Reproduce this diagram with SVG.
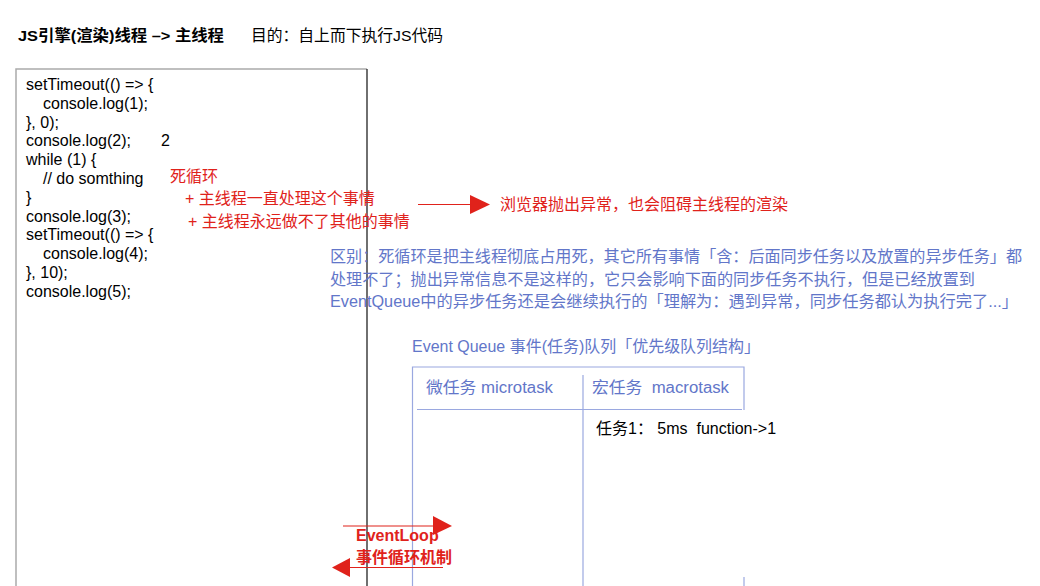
<svg xmlns="http://www.w3.org/2000/svg" width="1040" height="586" viewBox="0 0 1040 586">
<defs>
<style>
text{font-family:"Liberation Sans","Noto Sans CJK SC",sans-serif;font-size:16px;}
.title{font-size:15.5px;fill:#000;}
.b{font-weight:bold;}
.code{fill:#000;font-size:16px;}
.red{fill:#e0221b;}
.blue{fill:#6276c9;font-size:16px;}
.blk{fill:#000;}
.tline{stroke:#9aa8e0;stroke-width:1.2;fill:none;}
.rline{stroke:#e0221b;stroke-width:1.2;fill:none;}
</style>
</defs>
<rect width="1040" height="586" fill="#fff"/>

<g id="title">
<text class="title b" x="18" y="41" textLength="206" lengthAdjust="spacingAndGlyphs">JS引擎(渲染)线程 –&gt; 主线程</text>
<text class="title" x="251" y="41" textLength="192" lengthAdjust="spacingAndGlyphs">目的：自上而下执行JS代码</text>
</g>

<g id="code-box">
<path d="M16 586 V69 H367" stroke="#aaaaaa" stroke-width="1.5" fill="none"/>
<line x1="367" y1="69" x2="367" y2="586" stroke="#222" stroke-width="1.3"/>
<text class="code" x="26" y="90">setTimeout(() =&gt; {</text>
<text class="code" x="43" y="108.8">console.log(1);</text>
<text class="code" x="26" y="127.6">}, 0);</text>
<text class="code" x="26" y="146.4">console.log(2);</text>
<text class="code" x="26" y="165.2">while (1) {</text>
<text class="code" x="43" y="184">// do somthing</text>
<text class="code" x="26" y="202.8">}</text>
<text class="code" x="26" y="221.6">console.log(3);</text>
<text class="code" x="26" y="240.4">setTimeout(() =&gt; {</text>
<text class="code" x="43" y="259.2">console.log(4);</text>
<text class="code" x="26" y="278">}, 10);</text>
<text class="code" x="26" y="296.8">console.log(5);</text>
<text class="code" x="161" y="146.4">2</text>
</g>

<g id="dead-loop-note">
<text class="red" x="170" y="182">死循环</text>
<text class="red" x="185" y="204">+ 主线程一直处理这个事情</text>
<text class="red" x="188" y="227">+ 主线程永远做不了其他的事情</text>
</g>

<g id="browser-error">
<text class="red" x="500" y="210">浏览器抛出异常，也会阻碍主线程的渲染</text>
</g>

<g id="difference-note">
<text class="blue" x="330" y="262" textLength="692" lengthAdjust="spacingAndGlyphs">区别：死循环是把主线程彻底占用死，其它所有事情「含：后面同步任务以及放置的异步任务」都</text>
<text class="blue" x="330" y="285" textLength="645" lengthAdjust="spacingAndGlyphs">处理不了；抛出异常信息不是这样的，它只会影响下面的同步任务不执行，但是已经放置到</text>
<text class="blue" x="330" y="307" textLength="688" lengthAdjust="spacingAndGlyphs">EventQueue中的异步任务还是会继续执行的「理解为：遇到异常，同步任务都认为执行完了...」</text>
</g>

<g id="event-queue">
<text class="blue" x="412" y="352" textLength="348" lengthAdjust="spacingAndGlyphs">Event Queue 事件(任务)队列「优先级队列结构」</text>
<path class="tline" d="M412.5 586 V367 H744 V410"/>
<line class="tline" x1="417" y1="409.5" x2="742" y2="409.5"/>
<line class="tline" x1="583" y1="375" x2="583" y2="586"/>
<line class="tline" x1="744" y1="577" x2="744" y2="586"/>
<text class="blue" x="426" y="393" textLength="127" lengthAdjust="spacingAndGlyphs">微任务 microtask</text>
<text class="blue" x="592" y="393" xml:space="preserve" textLength="137" lengthAdjust="spacingAndGlyphs">宏任务  macrotask</text>
<text class="blk" x="596" y="434" xml:space="preserve">任务1： 5ms  function-&gt;1</text>
</g>

<g id="eventloop">
<text class="red b" x="356" y="541">EventLoop</text>
<text class="red b" x="356" y="563">事件循环机制</text>
</g>

<g id="connectors">
<line class="rline" x1="418" y1="204.5" x2="472" y2="204.5"/>
<polygon points="470,195 490,204.5 470,214" fill="#e0221b"/>
<line class="rline" x1="343" y1="526" x2="435" y2="526"/>
<polygon points="433,516 452,526 433,535" fill="#e0221b"/>
<line class="rline" x1="348" y1="567.5" x2="443" y2="567.5"/>
<polygon points="350,558 332,567.5 350,577" fill="#e0221b"/>
</g>
</svg>
